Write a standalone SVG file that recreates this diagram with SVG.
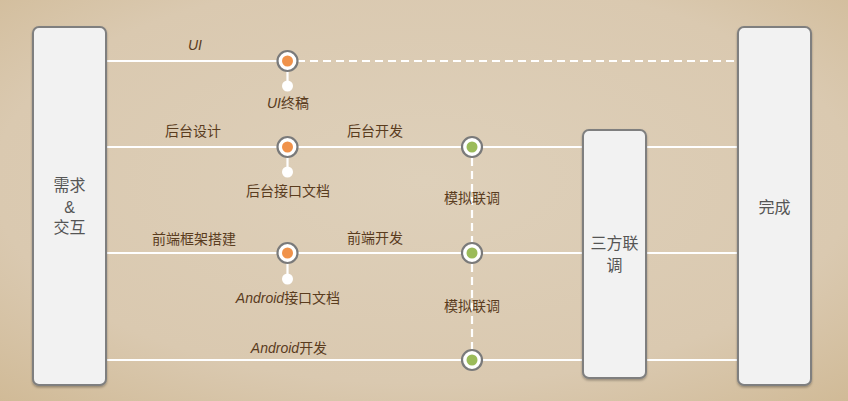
<svg xmlns="http://www.w3.org/2000/svg" width="848" height="401" viewBox="0 0 848 401">
  <defs>
    <radialGradient id="bg" cx="50%" cy="45%" r="78%">
      <stop offset="0" stop-color="#ded0ba"/>
      <stop offset="0.65" stop-color="#dac9b0"/>
      <stop offset="1" stop-color="#cfb893"/>
    </radialGradient>
    <filter id="shadow" x="-20%" y="-10%" width="140%" height="120%">
      <feDropShadow dx="0" dy="1.5" stdDeviation="1.2" flood-color="#000" flood-opacity="0.3"/>
    </filter>
    <style>
      .box { fill: #f2f2f2; stroke: #7f7f7f; stroke-width: 2; filter: url(#shadow); }
      .boxtext { font-family: "Liberation Sans", "Noto Sans CJK SC", sans-serif; font-size: 16px; fill: #555555; text-anchor: middle; }
      .line { stroke: #ffffff; stroke-width: 2.2; fill: none; }
      .dash { stroke: #ffffff; stroke-width: 2.2; fill: none; stroke-dasharray: 8 5; }
      .label { font-family: "Liberation Sans", "Noto Sans CJK SC", sans-serif; font-size: 14px; fill: #5a3c1e; text-anchor: middle; }
      .it { font-style: italic; }
      .ring { fill: #ffffff; stroke: #7a7a7a; stroke-width: 2.2; }
      .orange { fill: #f0924a; }
      .green { fill: #9bbb59; }
      .dot { fill: #ffffff; }
    </style>
  </defs>
  <rect x="0" y="0" width="848" height="401" fill="url(#bg)"/>

  <g id="connectors">
    <line class="line" x1="106" y1="61" x2="287" y2="61"/>
    <line class="dash" x1="297" y1="61" x2="738" y2="61"/>
    <line class="line" x1="106" y1="147" x2="583" y2="147"/>
    <line class="line" x1="646" y1="147" x2="738" y2="147"/>
    <line class="line" x1="106" y1="253" x2="583" y2="253"/>
    <line class="line" x1="646" y1="253" x2="738" y2="253"/>
    <line class="line" x1="106" y1="360" x2="583" y2="360"/>
    <line class="line" x1="646" y1="360" x2="738" y2="360"/>
    <line class="line" x1="287.5" y1="61" x2="287.5" y2="86"/>
    <line class="line" x1="287.5" y1="147" x2="287.5" y2="172"/>
    <line class="line" x1="287.5" y1="253" x2="287.5" y2="279"/>
    <line class="dash" x1="472" y1="158" x2="472" y2="242"/>
    <line class="dash" x1="472" y1="264" x2="472" y2="349"/>
  </g>

  <g id="node-xuqiu">
    <rect class="box" x="33" y="27" width="73" height="358" rx="6"/>
    <text class="boxtext" x="69.5" y="191">需求</text>
    <text class="boxtext" x="69.5" y="213">&amp;</text>
    <text class="boxtext" x="69.5" y="233">交互</text>
  </g>

  <g id="node-sanfang">
    <rect class="box" x="583" y="130" width="63" height="248" rx="6"/>
    <text class="boxtext" x="614.5" y="249">三方联</text>
    <text class="boxtext" x="614.5" y="271">调</text>
  </g>

  <g id="node-wancheng">
    <rect class="box" x="738" y="27" width="73" height="358" rx="6"/>
    <text class="boxtext" x="774.5" y="213">完成</text>
  </g>

  <g id="milestone-ui">
    <circle class="ring" cx="287.5" cy="61" r="10"/>
    <circle class="orange" cx="287.5" cy="61" r="5.5"/>
    <circle class="dot" cx="287.5" cy="86" r="5.5"/>
  </g>
  <g id="milestone-backend">
    <circle class="ring" cx="287.5" cy="147" r="10"/>
    <circle class="orange" cx="287.5" cy="147" r="5.5"/>
    <circle class="dot" cx="287.5" cy="172" r="5.5"/>
  </g>
  <g id="milestone-frontend">
    <circle class="ring" cx="287.5" cy="253" r="10"/>
    <circle class="orange" cx="287.5" cy="253" r="5.5"/>
    <circle class="dot" cx="287.5" cy="279" r="5.5"/>
  </g>
  <g id="sync-1">
    <circle class="ring" cx="472" cy="147" r="10"/>
    <circle class="green" cx="472" cy="147" r="5.5"/>
  </g>
  <g id="sync-2">
    <circle class="ring" cx="472" cy="253" r="10"/>
    <circle class="green" cx="472" cy="253" r="5.5"/>
  </g>
  <g id="sync-3">
    <circle class="ring" cx="472" cy="360" r="10"/>
    <circle class="green" cx="472" cy="360" r="5.5"/>
  </g>

  <g id="labels">
    <text class="label it" x="195" y="50">UI</text>
    <text class="label" x="288" y="108"><tspan class="it">UI</tspan>终稿</text>
    <text class="label" x="193" y="136">后台设计</text>
    <text class="label" x="375" y="136">后台开发</text>
    <text class="label" x="288" y="196">后台接口文档</text>
    <text class="label" x="472" y="203">模拟联调</text>
    <text class="label" x="194" y="244">前端框架搭建</text>
    <text class="label" x="375" y="243">前端开发</text>
    <text class="label" x="288" y="303"><tspan class="it">Android</tspan>接口文档</text>
    <text class="label" x="472" y="311">模拟联调</text>
    <text class="label" x="289" y="353"><tspan class="it">Android</tspan>开发</text>
  </g>
</svg>
